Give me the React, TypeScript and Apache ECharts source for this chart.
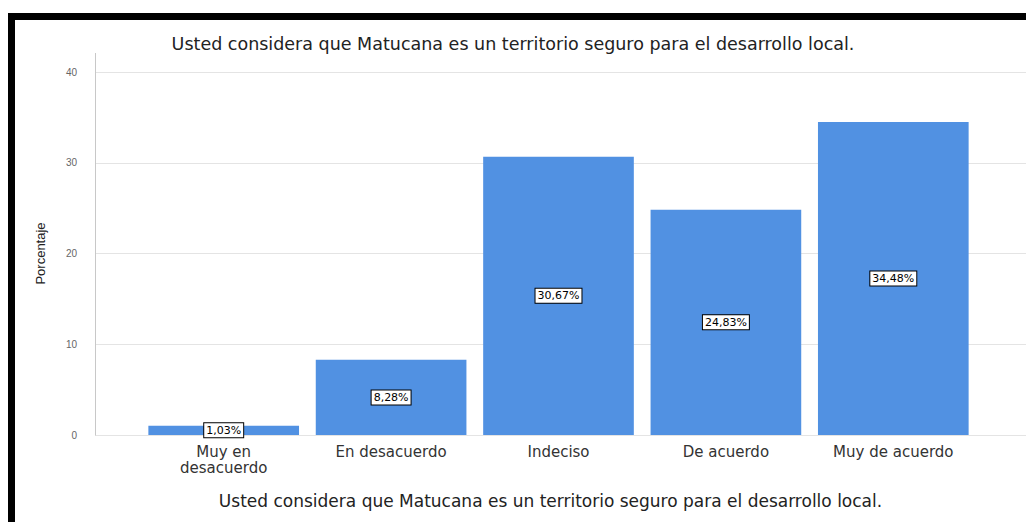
import React, { useEffect, useRef } from "react";
import * as echarts from "echarts";

const categories = ["Muy en\ndesacuerdo", "En desacuerdo", "Indeciso", "De acuerdo", "Muy de acuerdo"];
const percentages = [1.03, 8.28, 30.67, 24.83, 34.48];
const yTicks = { min: 0, max: 40, interval: 10 };
const titleText = "Usted considera que Matucana es un territorio seguro para el desarrollo local.";
const yAxisName = "Porcentaje";

export default function App() {
  const ref = useRef<HTMLDivElement>(null);
  useEffect(() => {
    if (!ref.current) return;
    const chart = echarts.init(ref.current, undefined, { renderer: "svg" });
    const font = "DejaVu Sans, Verdana, sans-serif";
    const font2 = "Liberation Sans, Arial, sans-serif";
    chart.setOption({
      animation: false,
      backgroundColor: "#ffffff",
      textStyle: { fontFamily: font },
      title: {
        text: titleText,
        left: "center",
        top: 30,
        textStyle: { fontSize: 17.5, fontWeight: "normal", color: "#222", fontFamily: font },
      },
      grid: [
        { left: 95, right: 0, top: 72, bottom: 87 },
        { left: 140, right: 49, top: 72, bottom: 87 },
      ],
      xAxis: [
        { gridIndex: 0, type: "value", show: false, min: 0, max: 1 },
        {
          gridIndex: 1,
          type: "category",
          data: categories,
          axisLine: { show: false },
          axisTick: { show: false },
          axisLabel: { fontSize: 15, color: "#333", margin: 9, lineHeight: 16, fontFamily: font },
          name: titleText,
          nameLocation: "middle",
          nameGap: 57,
          nameTextStyle: { fontSize: 17, color: "#222", fontFamily: font, padding: [0, 16, 0, 0] },
        },
      ],
      yAxis: [
        {
          gridIndex: 0,
          type: "value",
          min: yTicks.min,
          max: yTicks.max,
          interval: yTicks.interval,
          axisLine: { show: true, lineStyle: { color: "#c8c8c8", width: 1 } },
          axisTick: { show: false },
          splitLine: { show: true, lineStyle: { color: "#e4e4e4", width: 1 } },
          axisLabel: { fontSize: 10, color: "#666", margin: 18, fontFamily: font2 },
          name: yAxisName,
          nameLocation: "middle",
          nameGap: 48,
          nameRotate: 90,
          nameTextStyle: { fontSize: 13, color: "#222", fontFamily: font2 },
        },
        {
          gridIndex: 1,
          type: "value",
          min: yTicks.min,
          max: yTicks.max,
          show: false,
          splitLine: { show: false },
        },
      ],
      series: [
        {
          type: "bar",
          xAxisIndex: 1,
          yAxisIndex: 1,
          data: percentages,
          barCategoryGap: "10%",
          itemStyle: { color: "#5191e2" },
          label: {
            show: true,
            position: "inside",
            formatter: (p: any) => p.value.toFixed(2).replace(".", ",") + "%",
            fontSize: 11,
            color: "#000",
            backgroundColor: "#ffffff",
            borderColor: "#000",
            borderWidth: 1,
            padding: [2, 2, 1, 2],
            fontFamily: font,
          },
        },
      ],
      graphic: [
        { type: "rect", shape: { x: 8, y: 13, width: 1020, height: 7 }, style: { fill: "#000" } },
        { type: "rect", shape: { x: 8, y: 13, width: 7, height: 512 }, style: { fill: "#000" } },
        { type: "line", shape: { x1: 95.5, y1: 53, x2: 95.5, y2: 72 }, style: { stroke: "#c8c8c8", lineWidth: 1 } },
      ],
    });
    return () => chart.dispose();
  }, []);
  return (
    <div
      ref={ref}
      style={{ position: "fixed", left: 0, top: 0, width: 1026, height: 522 }}
    />
  );
}
